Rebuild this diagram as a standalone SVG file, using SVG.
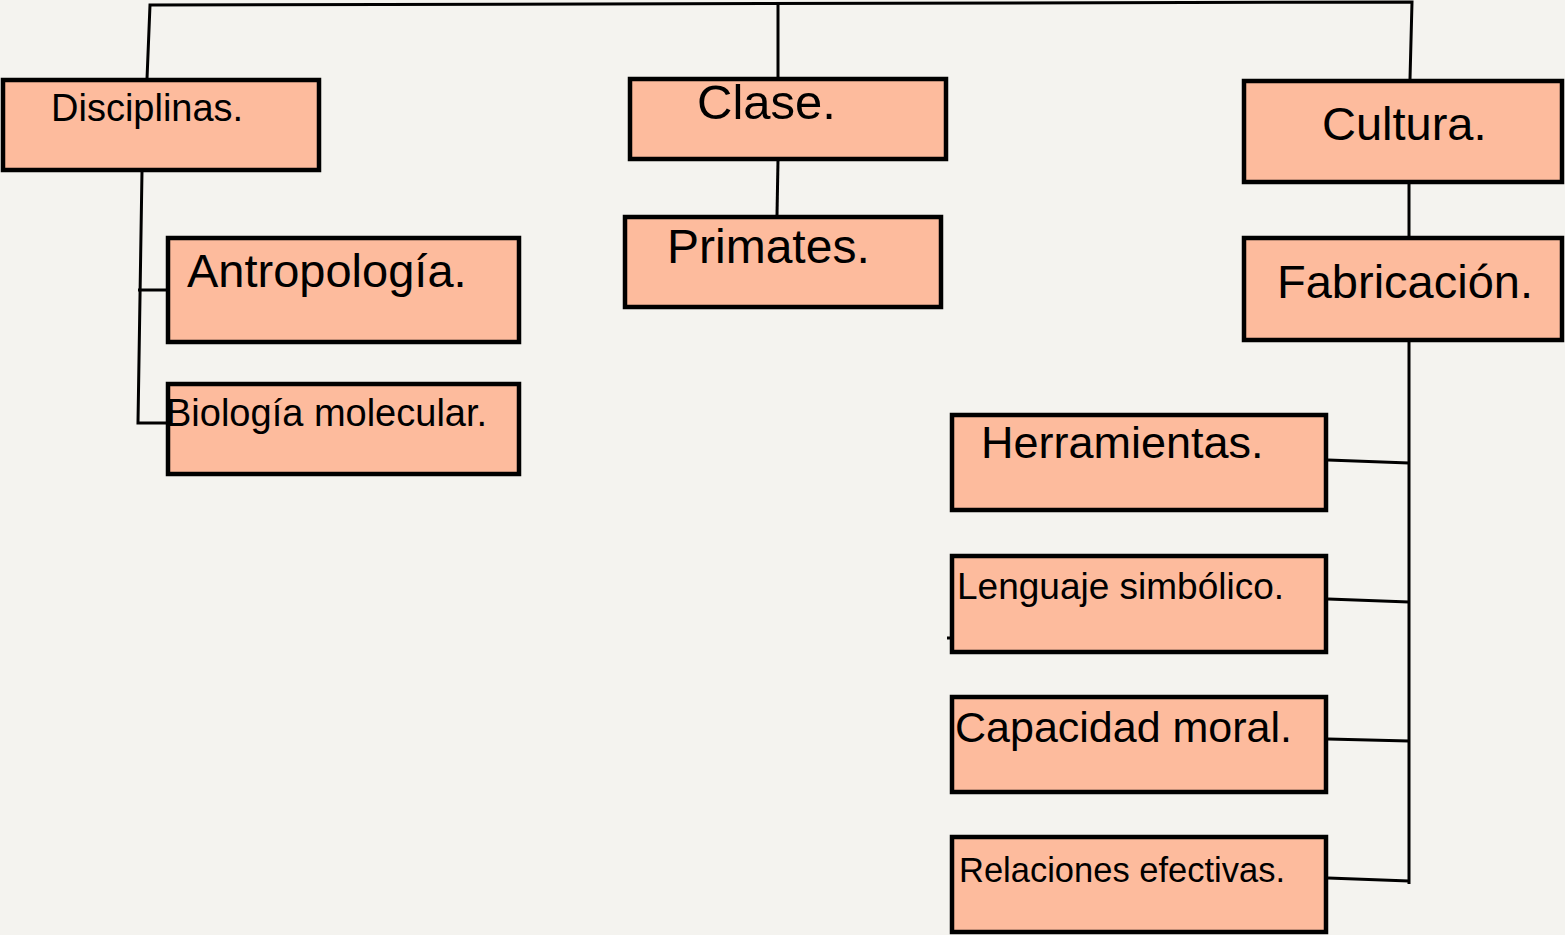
<svg xmlns="http://www.w3.org/2000/svg" width="1565" height="935" viewBox="0 0 1565 935">
<style>
.box{fill:#fdbb9d;stroke:#000;stroke-width:4.5}
.t{font-family:"Liberation Sans",Arial,sans-serif;fill:#000}
.c{fill:none;stroke:#000;stroke-width:3}
</style>
<rect width="1565" height="935" fill="#f4f3ef"/>
<g id="connectors">
<path class="c" d="M147,79 L150,5 L1412,2 L1410,79"/>
<path class="c" d="M778,3 L778,78"/>
<path class="c" d="M778,160 L777,215"/>
<path class="c" d="M1409,183 L1409,237"/>
<path class="c" d="M1409,342 L1409,884"/>
<path class="c" d="M142,171 L138,423 L167,423"/>
<path class="c" d="M138,290 L167,290"/>
<path class="c" d="M1328,460 L1409,463"/>
<path class="c" d="M1328,599 L1409,602"/>
<path class="c" d="M1328,739 L1409,741"/>
<path class="c" d="M1328,878 L1409,881"/>
<path class="c" d="M947,638 L951,638"/>
</g>
<g id="n-disciplinas"><rect class="box" x="3" y="80" width="316" height="90"/><text class="t" x="51" y="121" font-size="38">Disciplinas.</text></g>
<g id="n-antropologia"><rect class="box" x="168" y="238" width="351" height="104"/><text class="t" x="187" y="287" font-size="47">Antropología.</text></g>
<g id="n-biologia"><rect class="box" x="168" y="384" width="351" height="90"/><text class="t" x="166" y="426" font-size="38">Biología molecular.</text></g>
<g id="n-clase"><rect class="box" x="630" y="79" width="316" height="80"/><text class="t" x="697" y="119" font-size="49">Clase.</text></g>
<g id="n-primates"><rect class="box" x="625" y="217" width="316" height="90"/><text class="t" x="667" y="263" font-size="48">Primates.</text></g>
<g id="n-cultura"><rect class="box" x="1244" y="81" width="318" height="101"/><text class="t" x="1322" y="140" font-size="47">Cultura.</text></g>
<g id="n-fabricacion"><rect class="box" x="1244" y="238" width="318" height="102"/><text class="t" x="1277" y="298" font-size="47">Fabricación.</text></g>
<g id="n-herramientas"><rect class="box" x="952" y="415" width="374" height="95"/><text class="t" x="981" y="458" font-size="45">Herramientas.</text></g>
<g id="n-lenguaje"><rect class="box" x="952" y="556" width="374" height="96"/><text class="t" x="957" y="599" font-size="37">Lenguaje simbólico.</text></g>
<g id="n-capacidad"><rect class="box" x="952" y="697" width="374" height="95"/><text class="t" x="955" y="742" font-size="43">Capacidad moral.</text></g>
<g id="n-relaciones"><rect class="box" x="952" y="837" width="374" height="95"/><text class="t" x="959" y="882" font-size="34.5">Relaciones efectivas.</text></g>
</svg>
